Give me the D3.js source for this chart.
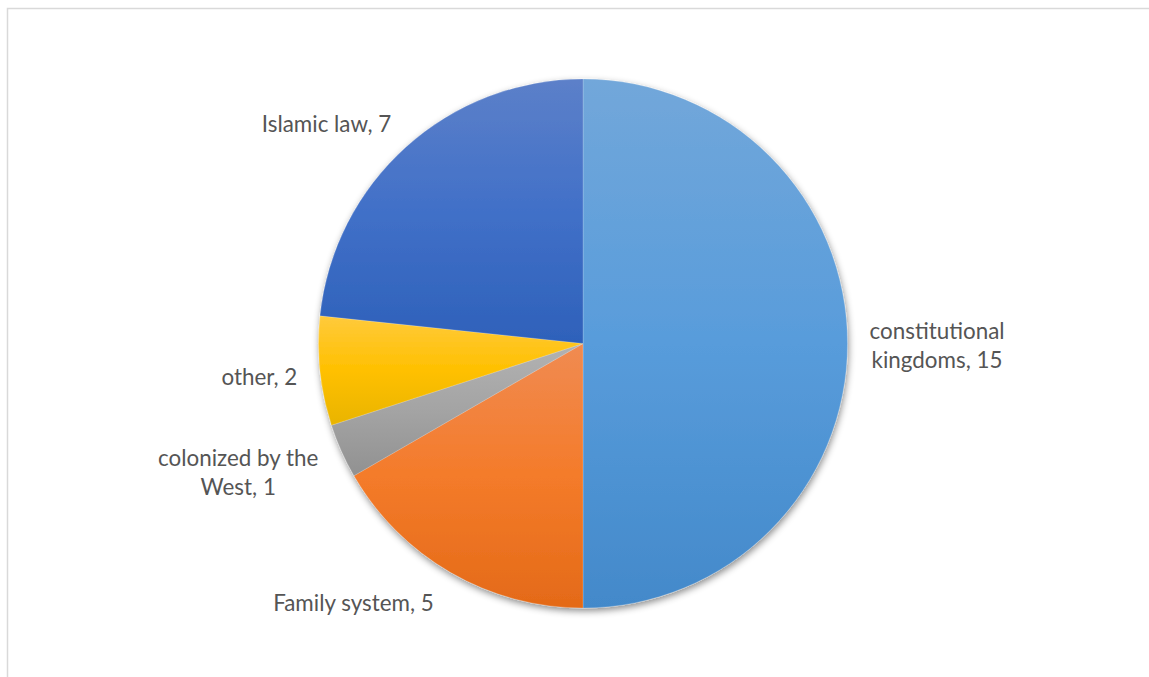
<!DOCTYPE html>
<html><head><meta charset="utf-8">
<script src="https://cdn.jsdelivr.net/npm/d3@7"></script>
<style>
html,body{margin:0;padding:0;background:#fff;}
svg{display:block;}
</style></head>
<body>
<svg id="chart" width="1149" height="677"></svg>
<script>
// ---- data ----
const categories = ["constitutional kingdoms", "Family system", "colonized by the West", "other", "Islamic law"];
const values = [15, 5, 1, 2, 7];
const labelLines = [["constitutional", "kingdoms, 15"], ["Family system, 5"], ["colonized by the", "West, 1"], ["other, 2"], ["Islamic law, 7"]];
const topColors = ["#72a7da", "#f08b52", "#b2b2b2", "#ffca3c", "#5c80c9"];
const midColors = ["#589cdb", "#f47b2a", "#a4a4a4", "#ffc000", "#4170c8"];
const bottomColors = ["#4389ca", "#e46a18", "#919191", "#e9b400", "#2e61ba"];

const W = 1149, H = 677;
const cx = 583, cy = 343.5, r = 264.5;
const svg = d3.select("#chart");

// frame
svg.append("path").attr("d", `M7.5,${H} V8.5 H${W}`).attr("fill", "none").attr("stroke", "#d9d9d9").attr("stroke-width", 1.5);

const defs = svg.append("defs");
const f = defs.append("filter").attr("id", "shadow").attr("x", "-20%").attr("y", "-20%").attr("width", "140%").attr("height", "140%");
f.append("feDropShadow").attr("dx", 1).attr("dy", 3).attr("stdDeviation", 3.5).attr("flood-color", "#000").attr("flood-opacity", 0.45);

categories.forEach((c, i) => {
  const g = defs.append("linearGradient").attr("id", "grad" + i).attr("x1", 0).attr("y1", 0).attr("x2", 0).attr("y2", 1);
  g.append("stop").attr("offset", "0%").attr("stop-color", topColors[i]);
  g.append("stop").attr("offset", "50%").attr("stop-color", midColors[i]);
  g.append("stop").attr("offset", "100%").attr("stop-color", bottomColors[i]);
});

const pie = d3.pie().sort(null).value(d => d)(values);
const arc = d3.arc().innerRadius(0).outerRadius(r);

const g = svg.append("g").attr("transform", `translate(${cx},${cy})`);
const pg = g.append("g").attr("filter", "url(#shadow)");
pg.selectAll("path").data(pie).join("path")
  .attr("d", arc)
  .attr("fill", (d, i) => `url(#grad${i})`)
  .attr("stroke", "rgba(255,255,255,0.3)")
  .attr("stroke-width", 0.6);

// labels
const fontSize = 22.4, lineH = 29;
const labelR = r + 22;
pie.forEach((d, i) => {
  const a = (d.startAngle + d.endAngle) / 2;
  const px = Math.sin(a) * labelR, py = -Math.cos(a) * labelR;
  const lines = labelLines[i];
  const t = g.append("text")
    .attr("font-family", "Lato, 'Open Sans', sans-serif")
    .attr("font-size", fontSize)
    .attr("fill", "#555555")
    .attr("text-anchor", "middle");
  lines.forEach((ln, k) => t.append("tspan").attr("x", 0).attr("dy", k === 0 ? 0 : lineH).text(ln));
  const bb = t.node().getBBox();
  const hTot = (lines.length - 1) * lineH + fontSize;
  const sx = Math.sin(a), cyy = -Math.cos(a);
  // lower-left labels pushed slightly further outward, as the reference places them
  let lx = sx >= 0 ? px + bb.width / 2 : px - bb.width / 2 + Math.min(0, cyy) * 0 - Math.max(0, cyy) * 7;
  let ly = py + cyy * hTot / 2 + 2;
  const y0 = ly - (lines.length - 1) * lineH / 2 + fontSize * 0.36;
  t.attr("transform", `translate(${lx},${y0})`);
});
</script>
</body></html>
